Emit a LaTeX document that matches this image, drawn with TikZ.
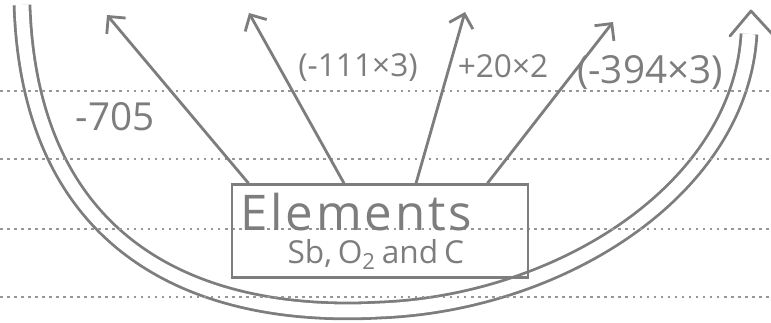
\documentclass[tikz,border=0pt]{standalone}
\usepackage{fontspec}
\setmainfont{Open Sans}
\usetikzlibrary{arrows.meta}
\definecolor{pen}{RGB}{125,125,125}
\tikzset{
	penline/.style={pen, line width=1.6pt, line cap=round},
	lbl/.style={pen, font=\fontsize{18}{20}\selectfont},
	ruled/.style={pen!80, line width=1.3pt, dash pattern=on 1.5pt off 2.5pt}
}
\begin{document}
\begin{tikzpicture}[>={Straight Barb[length=7pt,width=14pt]},x=0.02cm,y=-0.02cm]
	  \useasboundingbox (0,0) rectangle (771,322);
	  % the big U arrow
	  \draw[pen, line width=1.6pt, double=white, double distance=0.26cm]
	    (22,5) .. controls (30,250) and (200,320) .. (380,310)
	    .. controls (560,303) and (740,190) .. (749,34);
	  \coordinate (utip) at (751,11);
	  \draw[penline, line join=round] (730,36) -- (utip) -- (774,36);
	  % ruled lines of the page
	  \foreach \y in {91,159,229,297}
	    \draw[ruled] (0,\y) -- (771,\y);
	  \node[draw, penline, text width=5.6cm, minimum height=1.86cm, align=left, inner xsep=0.16cm, inner ysep=0pt] (elem) at (380,231)
	    {{\fontsize{28}{28}\selectfont\addfontfeatures{LetterSpace=6}Elements}\\[4pt]\hspace*{0.95cm}{\fontsize{18}{20}\selectfont Sb, O\textsubscript{2} and C}};
	  \coordinate (t1) at (107,15);
	  \coordinate (t2) at (249,13);
	  \coordinate (t3) at (465,12);
	  \coordinate (t4) at (613,22);
	  \draw[penline,->] (elem.160) -- (t1);
	  \draw[penline,->] (elem.127) -- (t2);
	  \draw[penline,->] (elem.53) -- (t3);
	  \draw[penline,->] (elem.24) -- (t4);
	  \node[lbl, font=\fontsize{22}{24}\selectfont] (l1) at (115,117) {-705};
	  \node[lbl] (l2) at (358,68) {(-111×3)};
	  \node[lbl] (l3) at (503,66) {+20×2};
	  \node[lbl, font=\fontsize{22}{24}\selectfont] (l4) at (650,73) {(-394×3)};
	\end{tikzpicture}
\end{document}
